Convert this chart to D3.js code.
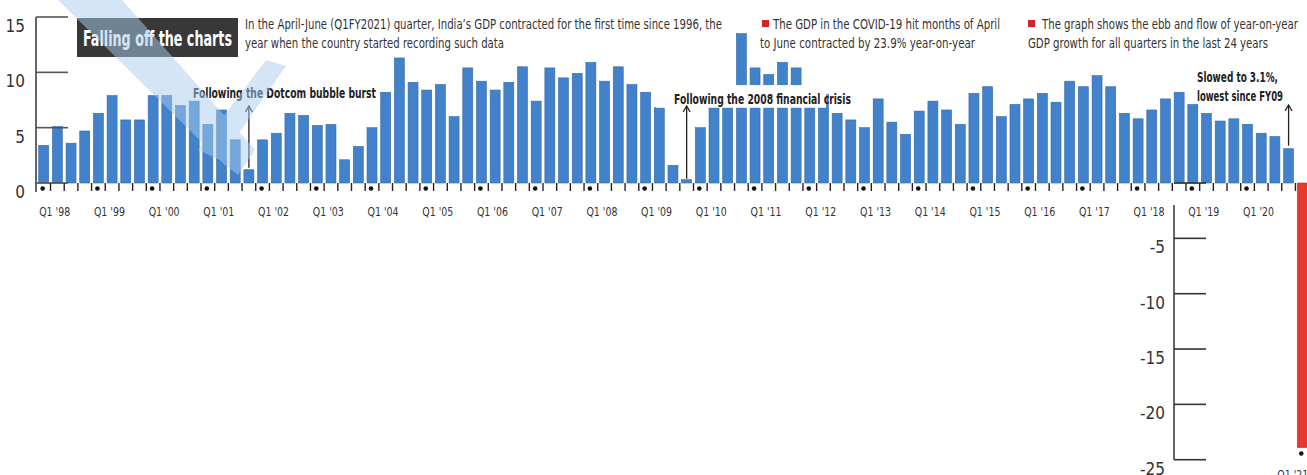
<!DOCTYPE html>
<html><head><meta charset="utf-8">
<script src="https://cdn.jsdelivr.net/npm/d3@7"></script>
<style>
html,body{margin:0;padding:0;background:#fff;}
svg{display:block;}
text{font-family:"Liberation Sans Narrow","DejaVu Sans Condensed","Roboto Condensed","Arial Narrow",sans-serif;}
</style></head><body>
<svg id="chart" width="1307" height="475"></svg>
<script>
// ---------------- data ----------------
const years = ["'98","'99","'00","'01","'02","'03","'04","'05","'06","'07","'08","'09","'10","'11","'12","'13","'14","'15","'16","'17","'18","'19","'20","'21"];
const quarters = ["Q1","Q2","Q3","Q4"];
const growth = [
  3.4, 5.1, 3.6, 4.7,   6.3, 7.9, 5.7, 5.7,   7.9, 7.9, 7.0, 7.4,   5.3, 6.6, 3.9, 1.2,
  3.9, 4.5, 6.3, 6.1,   5.2, 5.3, 2.1, 3.3,   5.0, 8.2, 11.3, 9.1,  8.4, 8.9, 6.0, 10.4,
  9.2, 8.4, 9.1, 10.5,  7.4, 10.4, 9.5, 9.9,  10.9, 9.2, 10.5, 8.9, 8.2, 6.8, 1.6, 0.3,
  5.0, 8.0, 8.3, 13.5,  10.4, 9.8, 10.9, 10.4, 8.5, 8.0, 6.3, 5.7,  5.0, 7.6, 5.5, 4.4,
  6.5, 7.4, 6.6, 5.3,   8.1, 8.7, 6.0, 7.1,   7.6, 8.1, 7.3, 9.2,   8.7, 9.7, 8.7, 6.3,
  5.8, 6.6, 7.6, 8.2,   7.1, 6.3, 5.6, 5.8,   5.3, 4.5, 4.2, 3.1,
  -23.9
];
const categories = [];
years.forEach(y => quarters.forEach(q => { if (categories.length < growth.length) categories.push(q + " " + y); }));
const xTickLabels = categories.filter(c => c.startsWith("Q1"));
const yTicksPos = [15, 10, 5, 0];
const yTicksNeg = [0, -5, -10, -15, -20, -25];

const titleText = "Falling off the charts";
const introLines = ["In the April-June (Q1FY2021) quarter, India\u2019s GDP contracted for the first time since 1996, the",
                    "year when the country started recording such data"];
const note1Lines = ["The GDP in the COVID-19 hit months of April", "to June contracted by 23.9% year-on-year"];
const note2Lines = ["The graph shows the ebb and flow of year-on-year", "GDP growth for all quarters in the last 24 years"];
const callouts = [
  {cat: "Q4 '01", lines: ["Following the Dotcom bubble burst"]},
  {cat: "Q4 '09", lines: ["Following the 2008 financial crisis"]},
  {cat: "Q4 '20", lines: ["Slowed to 3.1%,", "lowest since FY09"]}
];

// ---------------- chart ----------------
const svg = d3.select("#chart");
const blue = "#4282ca", red = "#e8392f";

const x = d3.scaleBand().domain(categories).range([36.85, 1309.1]).paddingInner(0.27).paddingOuter(0.135);
const y = d3.scaleLinear().domain([-25, 15]).range([459.7, 17]);
const bw = x.bandwidth(), step = x.step();
const cx = c => x(c) + bw / 2;

function T(g, px, py, str, o) {
  o = o || {};
  const t = g.append("text").attr("x", px).attr("y", py).text(str)
    .attr("font-size", o.size || 14).attr("font-weight", o.weight || "normal")
    .attr("fill", o.fill || "#222").attr("text-anchor", o.anchor || "start");
  if (o.w) t.attr("textLength", o.w).attr("lengthAdjust", "spacingAndGlyphs");
  return t;
}

// bars
svg.append("g").selectAll("rect").data(categories).join("rect")
  .attr("x", c => x(c)).attr("width", bw)
  .attr("y", (c, i) => y(Math.max(0, growth[i])))
  .attr("height", (c, i) => Math.abs(y(growth[i]) - y(0)))
  .attr("fill", (c, i) => growth[i] < 0 ? red : blue)
  .attr("stroke", (c, i) => growth[i] < 0 ? "#d22c23" : "#3568aa").attr("stroke-width", 0.6);

// label background over bars near the 2008 callout
svg.append("rect")
  .attr("x", x("Q2 '09") + 2).attr("width", x("Q3 '12") - x("Q2 '09") - 8)
  .attr("y", y(8.85)).attr("height", y(6.8) - y(8.85)).attr("fill", "#fff");

// left axis
const ax = svg.append("g").attr("stroke", "#333");
ax.append("line").attr("x1", 36).attr("x2", 36).attr("y1", y(15)).attr("y2", 192).attr("stroke-width", 1.5);
ax.selectAll("line.t").data(yTicksPos).join("line").attr("class", "t")
  .attr("x1", 36).attr("x2", 68).attr("y1", d => y(d)).attr("y2", d => y(d)).attr("stroke-width", 1.6).attr("stroke", "#555");
const axl = svg.append("g");
yTicksPos.forEach(v => T(axl, 25, y(v) + 15, String(v), {size: 17, anchor: "end", fill: "#333"}));

// negative axis
const nx = svg.append("g").attr("stroke", "#333");
nx.append("line").attr("x1", 1174).attr("x2", 1174).attr("y1", 205).attr("y2", y(-25)).attr("stroke-width", 1.5);
nx.selectAll("line.t").data(yTicksNeg).join("line").attr("class", "t")
  .attr("x1", 1174).attr("x2", 1206).attr("y1", d => y(d)).attr("y2", d => y(d)).attr("stroke-width", 1.6);
yTicksNeg.filter(v => v < 0).forEach(v => T(axl, 1165, y(v) + 15, String(v), {size: 17, anchor: "end", fill: "#333"}));

// x ticks at bar boundaries + dots
const tk = svg.append("g").attr("stroke", "#222").attr("stroke-width", 1.4);
categories.slice(1).forEach(c => {
  const bx = x(c) - (step - bw) / 2;
  tk.append("line").attr("x1", bx).attr("x2", bx).attr("y1", y(0)).attr("y2", y(0) + 8);
});
const last = categories[categories.length - 1];
xTickLabels.forEach(c => {
  const i = categories.indexOf(c);
  const dy = growth[i] < 0 ? y(growth[i]) + 6 : y(0) + 5.5;
  svg.append("circle").attr("cx", cx(c) - 1).attr("cy", dy).attr("r", 2.3).attr("fill", "#111");
  if (c === last) T(axl, cx(c) - 25, dy + 25, c, {size: 13, fill: "#333", w: 31});
  else T(axl, cx(c) - 4.5, y(0) + 33, c, {size: 13, fill: "#333", w: 31});
});

// callout arrows & labels
function arrow(g, ax0, yTop, yBot) {
  g.append("line").attr("x1", ax0).attr("x2", ax0).attr("y1", yTop).attr("y2", yBot).attr("stroke", "#222").attr("stroke-width", 1.3);
  g.append("path").attr("d", `M${ax0 - 3.5},${yTop + 6} L${ax0},${yTop} L${ax0 + 3.5},${yTop + 6}`)
    .attr("fill", "none").attr("stroke", "#222").attr("stroke-width", 1.3);
}
const cg = svg.append("g");
{
  const c0 = callouts[0], i0 = categories.indexOf(c0.cat);
  arrow(cg, cx(c0.cat), 106, y(growth[i0]) - 2);
  T(cg, 193, 98, c0.lines[0], {size: 14, weight: "bold", w: 183});
  const c1 = callouts[1], i1 = categories.indexOf(c1.cat);
  arrow(cg, cx(c1.cat), 106, y(growth[i1]) - 1);
  T(cg, 674, 104, c1.lines[0], {size: 14, weight: "bold", w: 177});
  const c2 = callouts[2], i2 = categories.indexOf(c2.cat);
  arrow(cg, cx(c2.cat), 105, y(growth[i2]) - 3);
  T(cg, 1197, 82, c2.lines[0], {size: 14, weight: "bold", w: 81});
  T(cg, 1197, 101, c2.lines[1], {size: 14, weight: "bold", w: 86});
}

// title and notes
svg.append("rect").attr("x", 77).attr("y", 18).attr("width", 161).attr("height", 39).attr("fill", "#383838");
T(svg, 83, 46, titleText, {size: 21, weight: "bold", fill: "#fff", w: 149});
T(svg, 245, 29, introLines[0], {size: 14, w: 477, fill: "#333"});
T(svg, 245, 48, introLines[1], {size: 14, w: 259, fill: "#333"});
svg.append("rect").attr("x", 762).attr("y", 20).attr("width", 7).attr("height", 7).attr("fill", "#d0232a");
T(svg, 773, 29, note1Lines[0], {size: 14, w: 227, fill: "#333"});
T(svg, 760, 48, note1Lines[1], {size: 14, w: 215, fill: "#333"});
svg.append("rect").attr("x", 1028).attr("y", 20).attr("width", 7).attr("height", 7).attr("fill", "#d0232a");
T(svg, 1042, 29, note2Lines[0], {size: 14, w: 256, fill: "#333"});
T(svg, 1028, 48, note2Lines[1], {size: 14, w: 240, fill: "#333"});

// faint watermark strokes
const wm = svg.append("g").attr("fill", "#a8cdee").attr("opacity", 0.5);
wm.append("polygon").attr("points", "58,0 122,0 255,150 238,175 225,165");
wm.append("polygon").attr("points", "198,150 266,60 286,66 220,160");
</script></body></html>
